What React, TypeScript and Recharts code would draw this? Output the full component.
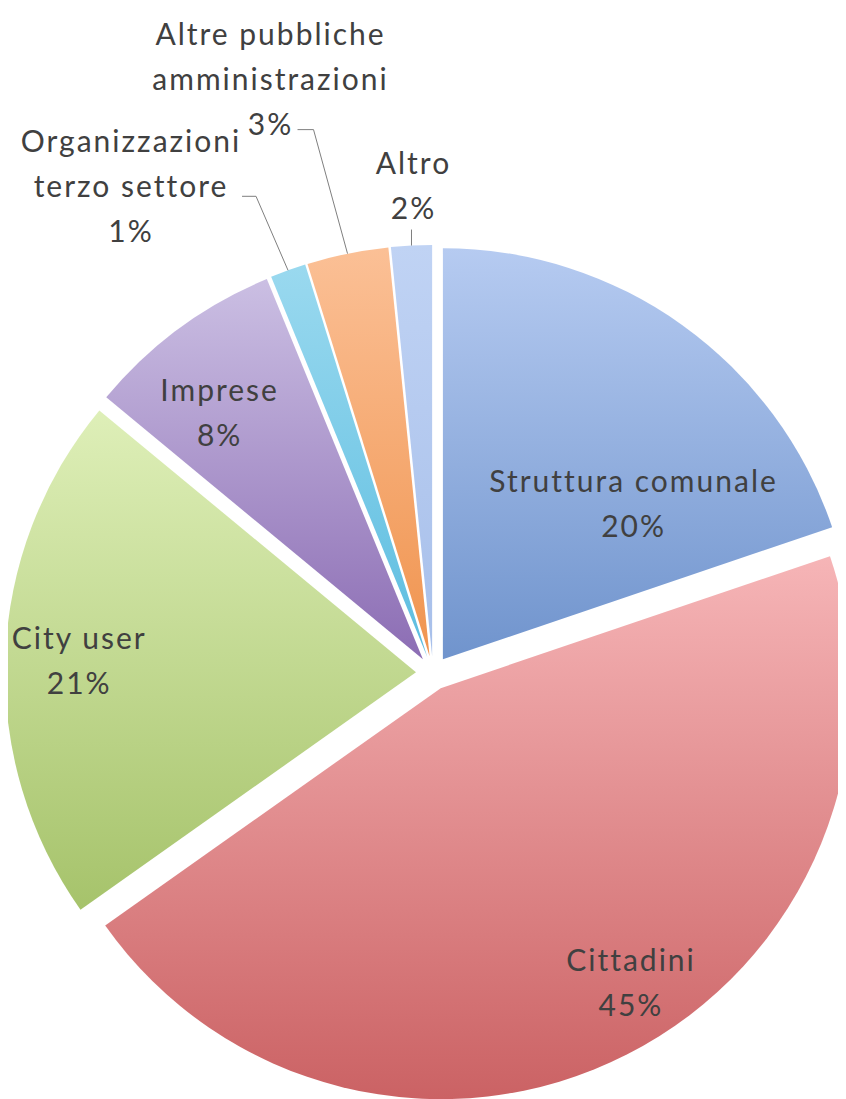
import React from 'react';
import { PieChart, Pie, Cell, Sector, Tooltip } from 'recharts';

const categories = [
  'Struttura comunale',
  'Cittadini',
  'City user',
  'Imprese',
  'Organizzazioni terzo settore',
  'Altre pubbliche amministrazioni',
  'Altro',
];
const shares = [19.8, 45.4, 20.8, 7.8, 1.4, 3.2, 1.6];
const labelRows = [
  ['Struttura comunale'],
  ['Cittadini'],
  ['City user'],
  ['Imprese'],
  ['Organizzazioni', 'terzo settore'],
  ['Altre pubbliche', 'amministrazioni'],
  ['Altro'],
];
const topColors = ['#b6cbf1', '#f6b5b7', '#deefb8', '#cbbfe3', '#9ad9ef', '#fbc096', '#c0d3f4'];
const bottomColors = ['#7094cd', '#cb6264', '#a6c36b', '#8c6db4', '#5cbde0', '#f0944f', '#a7bfea'];

const data = categories.map((name, i) => ({ name, value: shares[i] }));

const RADIAN = Math.PI / 180;
const EXPLODE = 17;
const LINE_H = 45;
const FONT = 'Lato, "Open Sans", sans-serif';
const TEXT = '#404040';

// inside labels: fraction of the radius + nudge clockwise (deg)
const insideLabel: Record<number, { r: number; shift: number }> = {
  0: { r: 0.6, shift: 15 },
  1: { r: 0.85, shift: -6 },
  2: { r: 0.82, shift: 0 },
  3: { r: 0.78, shift: -3 },
};
// outside labels: elbow offset from the arc, short horizontal tail, text offset
const outsideLabel: Record<number, { ex: number; ey: number; hx: number; tx: number; ty: number }> = {
  4: { ex: -32, ey: -74, hx: -14, tx: -111, ty: -11 },
  5: { ex: -34, ey: -124, hx: -16, tx: -27, ty: -52 },
  6: { ex: 0, ey: -16, hx: 0, tx: 2, ty: -45 },
};

const shifted = (cx: number, cy: number, angle: number, r: number) => ({
  x: cx + r * Math.cos(-angle * RADIAN),
  y: cy + r * Math.sin(-angle * RADIAN),
});

const renderSlice = (props: any) => {
  const { cx, cy, innerRadius, outerRadius, startAngle, endAngle, fill } = props;
  const mid = (startAngle + endAngle) / 2;
  const c = shifted(cx, cy, mid, EXPLODE);
  return (
    <Sector
      cx={c.x}
      cy={c.y}
      innerRadius={innerRadius}
      outerRadius={outerRadius}
      startAngle={startAngle}
      endAngle={endAngle}
      fill={fill}
      stroke="none"
    />
  );
};

const textBlock = (x: number, y: number, rows: string[]) => {
  const y0 = y - ((rows.length - 1) / 2) * LINE_H;
  return (
    <text
      x={x}
      y={y0}
      textAnchor="middle"
      dominantBaseline="central"
      fill={TEXT}
      fontFamily={FONT}
      fontSize={30}
      letterSpacing={2}
    >
      {rows.map((row, i) => (
        <tspan key={i} x={x} y={y0 + i * LINE_H}>
          {row}
        </tspan>
      ))}
    </text>
  );
};

const renderLabel = (props: any) => {
  const { cx, cy, midAngle, outerRadius, percent, index } = props;
  const o = shifted(cx, cy, midAngle, EXPLODE);
  const rows = [...labelRows[index], `${Math.round(percent * 100)}%`];
  const inside = insideLabel[index];
  if (inside) {
    const p = shifted(o.x, o.y, midAngle - inside.shift, outerRadius * inside.r);
    return <g key={`lbl-${index}`}>{textBlock(p.x, p.y, rows)}</g>;
  }
  const cfg = outsideLabel[index];
  const p = shifted(o.x, o.y, midAngle, outerRadius);
  const ex = p.x + cfg.ex;
  const ey = p.y + cfg.ey;
  const hx = ex + cfg.hx;
  return (
    <g key={`lbl-${index}`}>
      <polyline points={`${p.x},${p.y} ${ex},${ey} ${hx},${ey}`} fill="none" stroke="#7f7f7f" strokeWidth={1} />
      {textBlock(hx + cfg.tx, ey + cfg.ty, rows)}
    </g>
  );
};

export default function App() {
  return (
    <div style={{ width: 830, height: 1091, background: '#fff' }}>
      <PieChart width={830} height={1091} margin={{ top: 0, right: 0, bottom: 0, left: 0 }}>
        <defs>
          {topColors.map((c, i) => (
            <linearGradient key={i} id={`slice-${i}`} x1="0" y1="0" x2="0" y2="1">
              <stop offset="0%" stopColor={c} />
              <stop offset="100%" stopColor={bottomColors[i]} />
            </linearGradient>
          ))}
        </defs>
        <Pie
          data={data}
          dataKey="value"
          nameKey="name"
          cx={425}
          cy={665}
          outerRadius={411}
          startAngle={90}
          endAngle={-270}
          stroke="none"
          shape={renderSlice}
          activeShape={renderSlice}
          inactiveShape={renderSlice}
          label={renderLabel}
          labelLine={false}
          isAnimationActive={false}
        >
          {data.map((_, i) => (
            <Cell key={i} fill={`url(#slice-${i})`} />
          ))}
        </Pie>
        <Tooltip defaultIndex={0} content={() => null} cursor={false} />
      </PieChart>
    </div>
  );
}
